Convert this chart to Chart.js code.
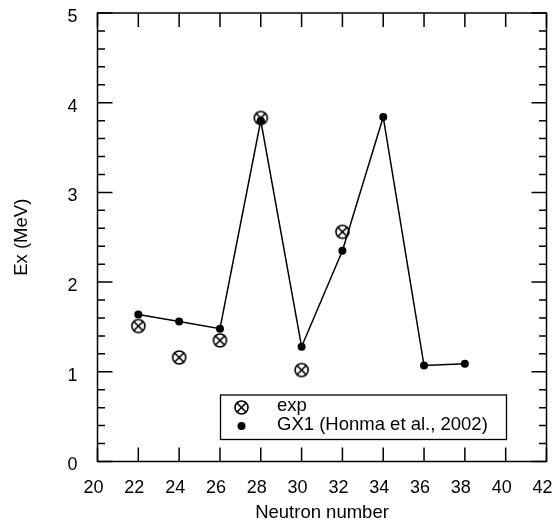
<!DOCTYPE html>
<html>
<head>
<meta charset="utf-8">
<script src="https://cdn.jsdelivr.net/npm/chart.js@4/dist/chart.umd.min.js"></script>
<style>
  body { margin: 0; background: #fff; }
  #c { display: block; }
</style>
</head>
<body>
<canvas id="c" width="555" height="522"></canvas>
<script>
// neutron numbers and excitation energies (MeV)
const expN = [22, 24, 26, 28, 30, 32];
const expE = [1.51, 1.16, 1.35, 3.83, 1.02, 2.56];
const gx1N = [22, 24, 26, 28, 30, 32, 34, 36, 38];
const gx1E = [1.64, 1.56, 1.48, 3.80, 1.28, 2.35, 3.84, 1.07, 1.09];
const xTicks = [20, 22, 24, 26, 28, 30, 32, 34, 36, 38, 40, 42];
const yTicks = [0, 1, 2, 3, 4, 5];
const seriesNames = ['exp', 'GX1 (Honma et al., 2002)'];

const FONT = '"Liberation Sans", Arial, Helvetica, sans-serif';

// crossed circle marker
function crossCircle(r) {
  const c = document.createElement('canvas');
  const s = Math.ceil(r * 2 + 4);
  c.width = s; c.height = s;
  const g = c.getContext('2d');
  const m = s / 2;
  g.strokeStyle = '#000';
  g.lineWidth = 1.6;
  g.fillStyle = '#fff';
  g.beginPath();
  g.arc(m, m, r, 0, Math.PI * 2);
  g.fill();
  g.stroke();
  const d = r * 0.7;
  g.beginPath();
  g.moveTo(m - d, m - d); g.lineTo(m + d, m + d);
  g.moveTo(m - d, m + d); g.lineTo(m + d, m - d);
  g.stroke();
  return c;
}
const expMarker = crossCircle(6.5);

// frame + inward ticks + legend box
const framePlugin = {
  id: 'frame',
  afterDraw(chart) {
    const ctx = chart.ctx;
    const a = chart.chartArea;
    const xs = chart.scales.x, ys = chart.scales.y;
    ctx.save();
    ctx.strokeStyle = '#000';
    ctx.lineWidth = 1.5;
    ctx.strokeRect(a.left, a.top, a.right - a.left, a.bottom - a.top);
    ctx.beginPath();
    xTicks.forEach(v => {
      const px = xs.getPixelForValue(v);
      ctx.moveTo(px, a.bottom); ctx.lineTo(px, a.bottom - 14);
      ctx.moveTo(px, a.top); ctx.lineTo(px, a.top + 14);
    });
    for (let i = 0; i < yTicks.length; i++) {
      const py = ys.getPixelForValue(yTicks[i]);
      ctx.moveTo(a.left, py); ctx.lineTo(a.left + 15, py);
      ctx.moveTo(a.right, py); ctx.lineTo(a.right - 15, py);
      if (i < yTicks.length - 1) {
        for (let k = 1; k < 5; k++) {
          const v = yTicks[i] + (yTicks[i + 1] - yTicks[i]) * k / 5;
          const pm = ys.getPixelForValue(v);
          ctx.moveTo(a.left, pm); ctx.lineTo(a.left + 7.5, pm);
          ctx.moveTo(a.right, pm); ctx.lineTo(a.right - 7.5, pm);
        }
      }
    }
    ctx.stroke();

    // legend
    const lx = a.left + 123, ly = a.top + 382;
    ctx.lineWidth = 1.3;
    ctx.fillStyle = '#fff';
    ctx.fillRect(lx, ly, 286, 44.5);
    ctx.strokeRect(lx, ly, 286, 44.5);
    ctx.drawImage(expMarker, lx + 21 - expMarker.width / 2, ly + 12.5 - expMarker.height / 2);
    ctx.fillStyle = '#000';
    ctx.beginPath();
    ctx.arc(lx + 21, ly + 31, 4, 0, Math.PI * 2);
    ctx.fill();
    ctx.font = '18.5px ' + FONT;
    ctx.textBaseline = 'middle';
    ctx.fillText(seriesNames[0], lx + 56.5, ly + 11);
    ctx.fillText(seriesNames[1], lx + 56.5, ly + 30);
    ctx.restore();
  }
};

new Chart(document.getElementById('c'), {
  type: 'scatter',
  data: {
    datasets: [
      {
        label: seriesNames[1],
        data: gx1N.map((n, i) => ({ x: n, y: gx1E[i] })),
        showLine: true,
        borderColor: '#000',
        borderWidth: 1.5,
        backgroundColor: '#000',
        pointRadius: 4,
        pointBorderWidth: 0,
        order: 1
      },
      {
        label: seriesNames[0],
        data: expN.map((n, i) => ({ x: n, y: expE[i] })),
        pointStyle: expMarker,
        showLine: false,
        order: 2
      }
    ]
  },
  options: {
    responsive: false,
    animation: false,
    devicePixelRatio: 1,
    layout: { padding: { top: 13, right: 8.5, left: 0, bottom: 0 } },
    plugins: { legend: { display: false }, tooltip: { enabled: false } },
    scales: {
      x: {
        type: 'linear',
        min: 20, max: 42,
        afterBuildTicks: s => { s.ticks = xTicks.map(v => ({ value: v })); },
        afterFit: s => { s.height = 60.5; s.paddingLeft = 0; s.paddingRight = 0; },
        grid: { display: false, drawTicks: false },
        border: { display: false },
        ticks: { color: '#000', font: { family: FONT, size: 18 }, padding: 16, labelOffset: -4, maxRotation: 0 },
        title: { display: true, text: 'Neutron number', color: '#000', font: { family: FONT, size: 18.5 }, padding: { top: 0, bottom: -2 } }
      },
      y: {
        type: 'linear',
        min: 0, max: 5,
        afterBuildTicks: s => { s.ticks = yTicks.map(v => ({ value: v })); },
        afterFit: s => { s.width = 97.5; s.paddingTop = 0; s.paddingBottom = 0; },
        grid: { display: false, drawTicks: false },
        border: { display: false },
        ticks: { color: '#000', font: { family: FONT, size: 18 }, padding: 20, labelOffset: 4 },
        title: { display: true, text: 'Ex (MeV)', color: '#000', font: { family: FONT, size: 18.5 }, padding: { top: 11, bottom: 0 } }
      }
    }
  },
  plugins: [framePlugin]
});
</script>
</body>
</html>
